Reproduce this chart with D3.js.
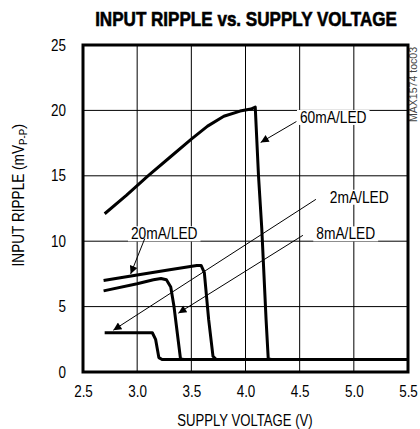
<!DOCTYPE html>
<html><head><meta charset="utf-8">
<script src="https://cdn.jsdelivr.net/npm/d3@7"></script>
<style>
html,body{margin:0;padding:0;background:#fff;}
text{font-family:"Liberation Sans",Arial,sans-serif;}
</style></head>
<body><svg id="c" width="420" height="429"></svg>
<script>
// ---- data ----
const title = "INPUT RIPPLE vs. SUPPLY VOLTAGE";
const xTicks = [2.5, 3.0, 3.5, 4.0, 4.5, 5.0, 5.5];
const yTicks = [0, 5, 10, 15, 20, 25];

const v60 = [2.7, 2.9, 3.1, 3.3, 3.5, 3.65, 3.8, 3.95, 4.05, 4.09, 4.12, 4.15, 4.19, 4.21, 4.24, 5.5];
const r60 = [12.1, 13.5, 15.0, 16.4, 17.8, 18.8, 19.55, 19.95, 20.1, 20.25, 15.0, 11.0, 4.0, 1.0, 0.95, 0.95];

const v20 = [2.69, 3.0, 3.3, 3.55, 3.59, 3.62, 3.66, 3.70, 3.73, 5.5];
const r20 = [7.0, 7.42, 7.82, 8.15, 8.15, 7.6, 4.0, 1.2, 0.95, 0.95];

const v8 = [2.69, 3.0, 3.15, 3.22, 3.27, 3.31, 3.34, 3.37, 3.40, 3.43, 5.5];
const r8 = [6.2, 6.75, 7.05, 7.15, 7.05, 6.5, 5.0, 3.0, 1.0, 0.95, 0.95];

const v2 = [2.7, 3.14, 3.17, 3.2, 3.23, 5.5];
const r2 = [3.0, 3.0, 2.5, 1.1, 0.95, 0.95];

// annotations: label, label centre (V, mV), arrow start, arrow tip
const annLabels = ["60mA/LED", "2mA/LED", "8mA/LED", "20mA/LED"];
const annLabelX = [4.81, 5.05, 4.925, 3.25];
const annLabelY = [19.5, 13.4, 10.6, 10.6];
const annFromX = [4.47, 4.65, 4.53, 3.07];
const annFromY = [19.15, 13.2, 10.45, 10.2];
const annToX = [4.14, 2.78, 3.38, 2.94];
const annToY = [17.55, 3.2, 4.5, 7.5];

// ---- drawing ----
const svg = d3.select("#c");
const x = d3.scaleLinear().domain([2.5, 5.5]).range([83, 408]);
const y = d3.scaleLinear().domain([0, 25]).range([372, 45]);

function narrow(sel, f) {
  sel.each(function () {
    const w = this.getComputedTextLength();
    d3.select(this).attr("textLength", w * f).attr("lengthAdjust", "spacingAndGlyphs");
  });
  return sel;
}

// title: condensed heavy look via horizontal scaling
const tg = svg.append("g");
const tt = tg.append("text").attr("x", 0).attr("y", 0).attr("text-anchor", "middle")
  .attr("font-size", 20).attr("font-weight", "bold")
  .attr("stroke", "#000").attr("stroke-width", 0.6).text(title);
const tw = tt.node().getComputedTextLength();
tg.attr("transform", `translate(246,26) scale(${302 / tw},1)`);

// grid
const g = svg.append("g");
g.selectAll("line.vx").data(xTicks).join("line").attr("class", "vx")
  .attr("x1", d => x(d)).attr("x2", d => x(d)).attr("y1", y(25)).attr("y2", y(0))
  .attr("stroke", "#000").attr("stroke-width", 1);
g.selectAll("line.hy").data(yTicks).join("line").attr("class", "hy")
  .attr("x1", x(2.5)).attr("x2", x(5.5)).attr("y1", d => y(d)).attr("y2", d => y(d))
  .attr("stroke", "#000").attr("stroke-width", 1);

// axes labels via d3 axes
const xAxis = d3.axisBottom(x).tickValues(xTicks).tickFormat(d3.format(".1f")).tickSize(0).tickPadding(14);
const yAxis = d3.axisLeft(y).tickValues(yTicks).tickFormat(d3.format("d")).tickSize(0).tickPadding(17);
const ax = svg.append("g").attr("transform", `translate(0,${y(0)})`).call(xAxis);
const ay = svg.append("g").attr("transform", `translate(${x(2.5)},0)`).call(yAxis);
[ax, ay].forEach(a => {
  a.select(".domain").remove();
  a.selectAll("text").attr("font-size", 16).attr("fill", "#000")
   .attr("font-family", '"Liberation Sans",Arial,sans-serif');
  narrow(a.selectAll("text"), 0.84);
});

narrow(svg.append("text").attr("x", 245).attr("y", 426).attr("text-anchor", "middle")
  .attr("font-size", 16).text("SUPPLY VOLTAGE (V)"), 0.82);

const yl = svg.append("text").attr("transform", "translate(24,195) rotate(-90)")
  .attr("text-anchor", "middle").attr("font-size", 16);
narrow(yl.append("tspan").text("INPUT RIPPLE (mV"), 0.85);
narrow(yl.append("tspan").attr("font-size", 11).attr("dy", 3).text("P-P"), 0.88);
yl.append("tspan").attr("dy", -3).text(")");

svg.append("text").attr("transform", "translate(417,47) rotate(-90)")
  .attr("text-anchor", "end").attr("font-size", 10).attr("fill", "#444")
  .attr("textLength", 75).attr("lengthAdjust", "spacingAndGlyphs").text("MAX1574 toc03");

// curves
const line = d3.line().x(d => x(d[0])).y(d => y(d[1]));
const series = [[v60, r60], [v20, r20], [v8, r8], [v2, r2]];
series.forEach(([vs, rs]) => {
  svg.append("path").datum(vs.map((v, i) => [v, rs[i]]))
    .attr("d", line).attr("fill", "none").attr("stroke", "#000")
    .attr("stroke-width", 3).attr("stroke-linejoin", "round");
});

// annotations
svg.append("defs").append("marker").attr("id", "ah")
  .attr("viewBox", "0 0 10 10").attr("refX", 10).attr("refY", 5)
  .attr("markerWidth", 14).attr("markerHeight", 8).attr("markerUnits", "userSpaceOnUse")
  .attr("orient", "auto")
  .append("path").attr("d", "M0,0 L10,5 L0,10 Z").attr("fill", "#000");

const bgLayer = svg.append("g");
const annLayer = svg.append("g");
annLabels.forEach((t, i) => {
  const tx = annLayer.append("text").attr("x", x(annLabelX[i])).attr("y", y(annLabelY[i]) + 6)
    .attr("text-anchor", "middle").attr("font-size", 16).text(t);
  narrow(tx, 0.86);
  const bb = tx.node().getBBox();
  bgLayer.append("rect").attr("x", bb.x - 3).attr("y", bb.y + 1)
    .attr("width", bb.width + 6).attr("height", bb.height - 2).attr("fill", "#fff");
  annLayer.append("line").attr("x1", x(annFromX[i])).attr("y1", y(annFromY[i]))
    .attr("x2", x(annToX[i])).attr("y2", y(annToY[i]))
    .attr("stroke", "#000").attr("stroke-width", 1).attr("marker-end", "url(#ah)");
});

// frame
svg.append("rect").attr("x", x(2.5)).attr("y", y(25)).attr("width", x(5.5) - x(2.5))
  .attr("height", y(0) - y(25)).attr("fill", "none").attr("stroke", "#000").attr("stroke-width", 3);
</script></body></html>
